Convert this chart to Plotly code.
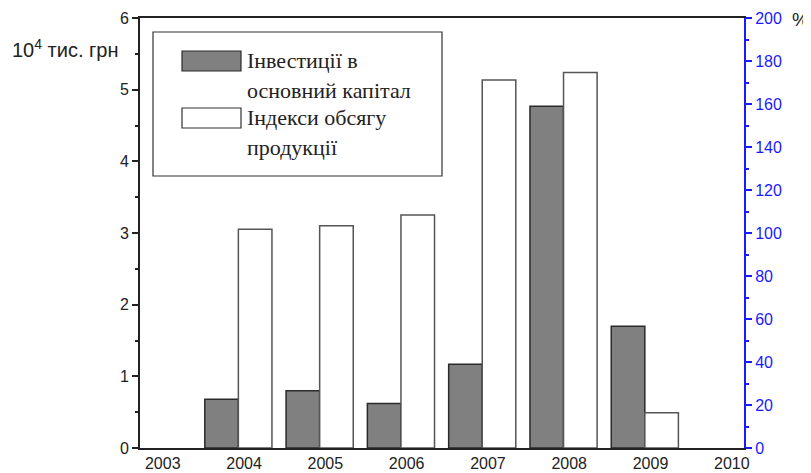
import plotly.graph_objects as go

years = [2004, 2005, 2006, 2007, 2008, 2009]
investments = [0.68, 0.80, 0.62, 1.17, 4.77, 1.70]        # 10^4 тис. грн
index_volume = [101.7, 103.4, 108.4, 171.2, 174.7, 16.4]  # %
x_ticks = [2003, 2004, 2005, 2006, 2007, 2008, 2009, 2010]
legend_names = ["Інвестиції в основний капітал", "Індекси обсягу продукції"]

# page body has an 8px margin; plot area target in page px
OFF = 8
L, R, T, B = 140, 744, 18, 448
W, H = 811, 473
def px(x): return (x - L) / (R - L)
def py(y): return (B - y) / (B - T)

fig = go.Figure()
fig.add_trace(go.Bar(x=years, y=investments, name=legend_names[0],
                     width=0.413, offset=-0.483,
                     marker=dict(color="#808080", line=dict(color="#2a2a2a", width=1.5)),
                     yaxis="y", showlegend=False))
fig.add_trace(go.Bar(x=years, y=index_volume, name=legend_names[1],
                     width=0.413, offset=-0.07,
                     marker=dict(color="white", line=dict(color="#555555", width=1.5)),
                     yaxis="y2", showlegend=False))

blue = "#1a1aff"
fig.update_layout(
    width=W, height=H,
    margin=dict(l=L - OFF, r=W - R + OFF, t=T - OFF, b=H - B + OFF, autoexpand=False),
    plot_bgcolor="white", paper_bgcolor="white",
    font=dict(family="Liberation Sans, Arial", size=16, color="#222"),
    xaxis=dict(range=[2002.72, 2010.15], tickvals=x_ticks, ticks="",
               showline=True, linecolor="#222", linewidth=2, mirror=True,
               showgrid=False, zeroline=False, tickfont=dict(size=16)),
    yaxis=dict(range=[0, 6], dtick=1, ticks="outside", ticklen=6, tickwidth=1.5,
               tickcolor="#222", showline=True, linecolor="#222", linewidth=2,
               showgrid=False, zeroline=False, tickfont=dict(size=16),
               minor=dict(dtick=0.5, ticks="outside", ticklen=3, tickcolor="#222")),
    yaxis2=dict(range=[0, 200], dtick=20, overlaying="y", side="right",
                ticks="outside", ticklen=6, tickwidth=1.5, tickcolor=blue,
                showline=True, linecolor=blue, linewidth=2,
                showgrid=False, zeroline=False,
                tickfont=dict(size=16, color=blue),
                minor=dict(dtick=10, ticks="outside", ticklen=3, tickcolor=blue)),
)

# Axis titles
fig.add_annotation(xref="paper", yref="paper", x=px(121), y=py(48), xanchor="right",
                   yanchor="middle", showarrow=False,
                   text="10<sup>4</sup> тис. грн", font=dict(size=20, color="#222"))
fig.add_annotation(xref="paper", yref="paper", x=px(790), y=py(19), xanchor="left",
                   yanchor="middle", showarrow=False,
                   text="%", font=dict(size=19, color="#222"))

# Legend box drawn manually
fig.add_shape(type="rect", xref="paper", yref="paper",
              x0=px(153), x1=px(442), y0=py(32), y1=py(176),
              line=dict(color="#333", width=1.2), fillcolor="white", layer="above")
fig.add_shape(type="rect", xref="paper", yref="paper",
              x0=px(182), x1=px(241), y0=py(51), y1=py(71),
              line=dict(color="#2a2a2a", width=1.2), fillcolor="#808080", layer="above")
fig.add_shape(type="rect", xref="paper", yref="paper",
              x0=px(182), x1=px(241), y0=py(108), y1=py(128),
              line=dict(color="#333", width=1.2), fillcolor="white", layer="above")
lines = [("Інвестиції в", 61), ("основний капітал", 90),
         ("Індекси обсягу", 118), ("продукції", 147)]
for txt, yy in lines:
    fig.add_annotation(xref="paper", yref="paper", x=px(245), y=py(yy),
                       xanchor="left", yanchor="middle", showarrow=False, text=txt,
                       font=dict(family="Liberation Serif, Times New Roman", size=22,
                                 color="#222"))

fig.write_html("out.html")
